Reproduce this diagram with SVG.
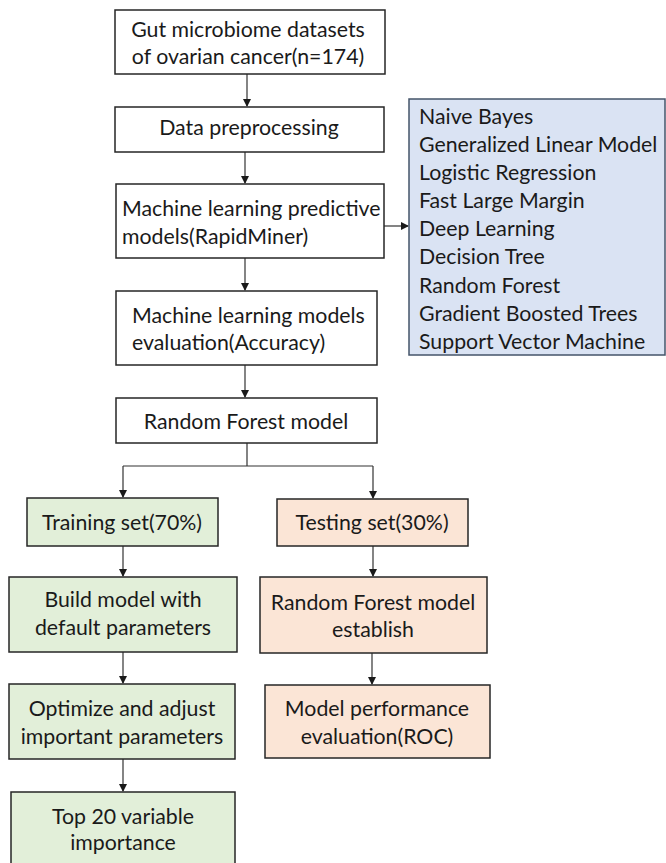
<svg xmlns="http://www.w3.org/2000/svg" width="666" height="863" viewBox="0 0 666 863">
<defs>
<style>
.box{stroke:#262626;stroke-width:1.5}
.w{fill:#ffffff}
.g{fill:#e2efd9}
.p{fill:#fbe5d6}
.b{fill:#dae3f3;stroke:#44546a}
text{font-family:Lato,"Liberation Sans",sans-serif;font-size:21.3px;fill:#1a1a1a}
.c{text-anchor:middle}
.ln{stroke:#333333;stroke-width:1.2;fill:none}
</style>
<marker id="ah" markerWidth="8" markerHeight="8" refX="7" refY="4" orient="auto" markerUnits="userSpaceOnUse">
<path d="M0,0 L8,4 L0,8 z" fill="#1a1a1a"/>
</marker>
</defs>
<rect width="666" height="863" fill="#ffffff"/>
<g id="connectors">
<line class="ln" x1="247" y1="74" x2="247" y2="106" marker-end="url(#ah)"/>
<line class="ln" x1="245" y1="152" x2="245" y2="183" marker-end="url(#ah)"/>
<line class="ln" x1="384" y1="226" x2="408" y2="226" marker-end="url(#ah)"/>
<line class="ln" x1="245" y1="258" x2="245" y2="290" marker-end="url(#ah)"/>
<line class="ln" x1="245" y1="365" x2="245" y2="397" marker-end="url(#ah)"/>
<path class="ln" d="M247,443 V466 M123,466 H373"/>
<line class="ln" x1="123" y1="466" x2="123" y2="497" marker-end="url(#ah)"/>
<line class="ln" x1="373" y1="466" x2="373" y2="498" marker-end="url(#ah)"/>
<line class="ln" x1="123" y1="546" x2="123" y2="576" marker-end="url(#ah)"/>
<line class="ln" x1="373" y1="546" x2="373" y2="576" marker-end="url(#ah)"/>
<line class="ln" x1="123" y1="652" x2="123" y2="683" marker-end="url(#ah)"/>
<line class="ln" x1="372" y1="653" x2="372" y2="684" marker-end="url(#ah)"/>
<line class="ln" x1="123" y1="759" x2="123" y2="791" marker-end="url(#ah)"/>
</g>
<g id="n1"><rect class="box w" x="115" y="10" width="270" height="64"/>
<text class="c" x="248" y="37">Gut microbiome datasets</text>
<text class="c" x="248" y="64">of ovarian cancer(n=174)</text></g>
<g id="n2"><rect class="box w" x="115" y="107" width="269" height="45"/>
<text class="c" x="249" y="135">Data preprocessing</text></g>
<g id="n3"><rect class="box w" x="116" y="184" width="268" height="74"/>
<text x="122" y="216">Machine learning predictive</text>
<text x="122" y="244">models(RapidMiner)</text></g>
<g id="n4"><rect class="box b" x="409" y="99" width="256" height="256"/>
<text x="419" y="124">Naive Bayes</text>
<text x="419" y="152">Generalized Linear Model</text>
<text x="419" y="180">Logistic Regression</text>
<text x="419" y="208">Fast Large Margin</text>
<text x="419" y="236">Deep Learning</text>
<text x="419" y="264">Decision Tree</text>
<text x="419" y="293">Random Forest</text>
<text x="419" y="321">Gradient Boosted Trees</text>
<text x="419" y="349">Support Vector Machine</text></g>
<g id="n5"><rect class="box w" x="116" y="291" width="261" height="74"/>
<text x="132" y="323">Machine learning models</text>
<text x="132" y="350">evaluation(Accuracy)</text></g>
<g id="n6"><rect class="box w" x="116" y="398" width="261" height="45"/>
<text class="c" x="246" y="429">Random Forest model</text></g>
<g id="n7"><rect class="box g" x="27" y="498" width="191" height="48"/>
<text class="c" x="122" y="530">Training set(70%)</text></g>
<g id="n8"><rect class="box p" x="277" y="499" width="191" height="47"/>
<text class="c" x="372" y="530">Testing set(30%)</text></g>
<g id="n9"><rect class="box g" x="9" y="577" width="228" height="75"/>
<text class="c" x="123" y="607">Build model with</text>
<text class="c" x="123" y="635">default parameters</text></g>
<g id="n10"><rect class="box p" x="260" y="577" width="227" height="76"/>
<text class="c" x="373" y="610">Random Forest model</text>
<text class="c" x="373" y="637">establish</text></g>
<g id="n11"><rect class="box g" x="9" y="684" width="226" height="75"/>
<text class="c" x="122" y="716">Optimize and adjust</text>
<text class="c" x="122" y="744">important parameters</text></g>
<g id="n12"><rect class="box p" x="265" y="685" width="225" height="73"/>
<text class="c" x="377" y="716">Model performance</text>
<text class="c" x="377" y="744">evaluation(ROC)</text></g>
<g id="n13"><rect class="box g" x="11" y="792" width="224" height="80"/>
<text class="c" x="123" y="824">Top 20 variable</text>
<text class="c" x="123" y="850">importance</text></g>
</svg>
